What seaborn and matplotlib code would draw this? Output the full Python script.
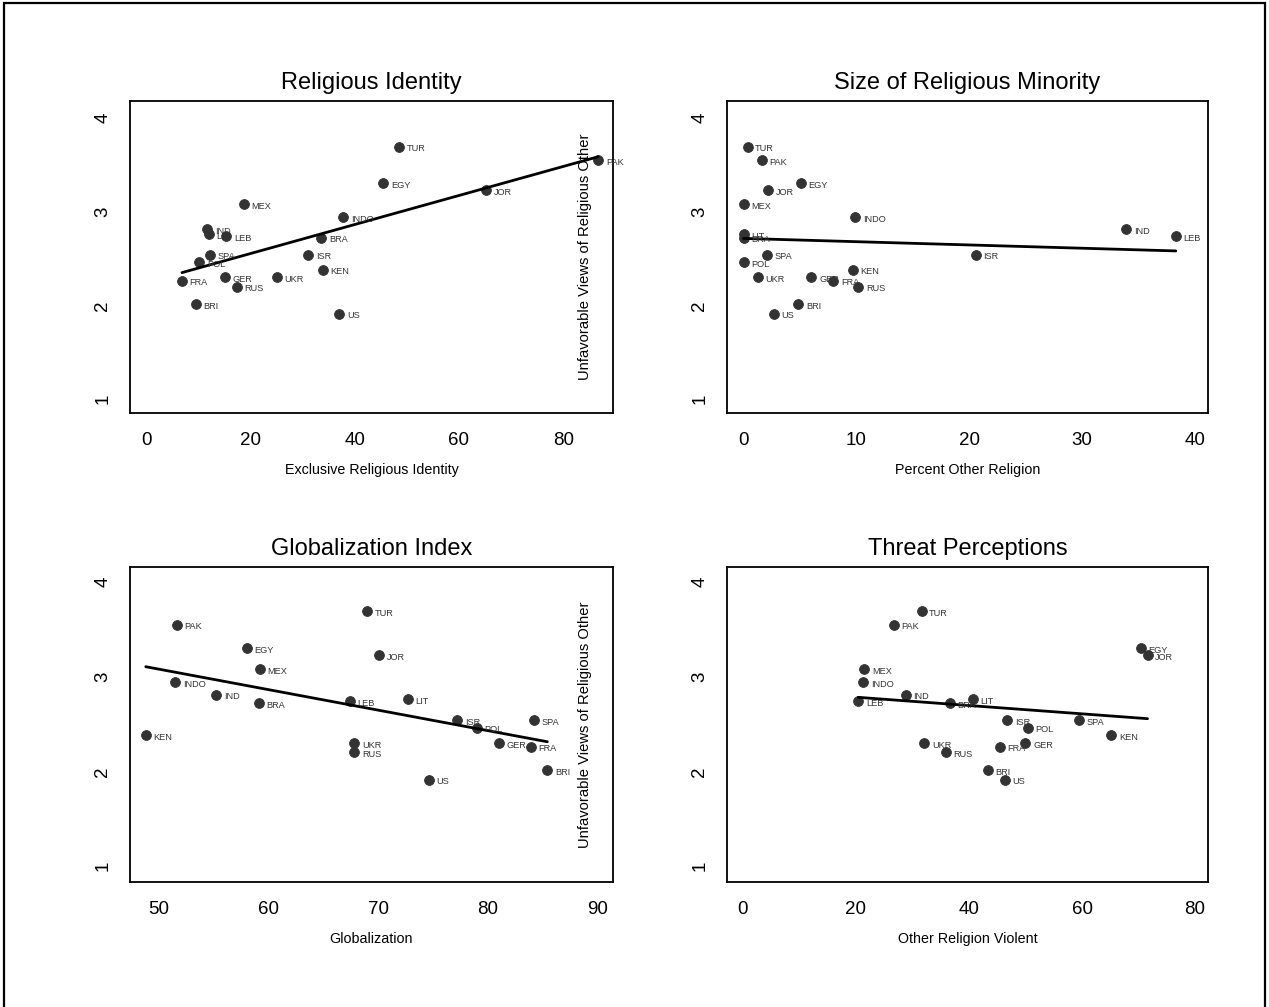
import numpy as np
import pandas as pd
import matplotlib
matplotlib.use("Agg")
import matplotlib.pyplot as plt
from matplotlib.patches import Rectangle
import seaborn as sns

# country codes and outcome (unfavorable views of religious other)
countries = ["TUR", "PAK", "EGY", "JOR", "MEX", "INDO", "IND", "LIT", "LEB", "BRA",
             "SPA", "ISR", "POL", "KEN", "GER", "UKR", "FRA", "RUS", "BRI", "US"]
unfavorable = [3.69, 3.55, 3.30, 3.23, 3.08, 2.94, 2.81, 2.76, 2.74, 2.72,
               2.54, 2.54, 2.46, 2.38, 2.30, 2.30, 2.26, 2.20, 2.01, 1.91]

# predictors, same country order
exclusive_identity = [48.6, 86.7, 45.5, 65.2, 18.7, 37.8, 11.7, 12.0, 15.4, 33.6,
                      12.3, 31.1, 10.2, 33.9, 15.1, 25.1, 6.9, 17.4, 9.5, 37.1]
pct_other_religion = [0.4, 1.65, 5.1, 2.2, 0.05, 9.95, 33.9, 0.05, 38.3, 0.05,
                      2.15, 20.6, 0.05, 9.7, 6.05, 1.3, 8.0, 10.2, 4.9, 2.7]
globalization = [69.0, 51.6, 58.0, 70.1, 59.2, 51.5, 55.2, 72.7, 67.4, 59.1,
                 84.2, 77.2, 79.0, 48.8, 81.0, 67.8, 83.9, 67.8, 85.4, 74.6]
other_violent = [31.6, 26.7, 70.4, 71.6, 21.5, 21.3, 28.8, 40.7, 20.4, 36.6,
                 59.4, 46.8, 50.4, 65.2, 50.0, 32.1, 45.4, 35.9, 43.3, 46.3]

df = pd.DataFrame({
    "country": countries,
    "unfav": unfavorable,
    "excl": exclusive_identity,
    "other": pct_other_religion,
    "glob": globalization,
    "viol": other_violent,
})

sns.set_style("white")
plt.rcParams["font.family"] = ["Liberation Sans", "DejaVu Sans"]
plt.rcParams.update({"text.color": "black", "axes.labelcolor": "black",
                     "xtick.color": "black", "ytick.color": "black"})

W, H = 1269, 1007
fig = plt.figure(figsize=(W / 100, H / 100), dpi=100)

# border around the whole graph (bottom edge falls off the image)
fig.patches.append(Rectangle((4 / W, -0.02), (1265 - 4) / W, 1.02 - 3 / H,
                             transform=fig.transFigure, fill=False,
                             edgecolor="black", linewidth=1.6))


def px_axes(left, right, top, bottom):
    return fig.add_axes([left / W, 1 - bottom / H, (right - left) / W, (bottom - top) / H])


panels = [
    ("excl", "Religious Identity", "Exclusive Religious Identity",
     (130, 613, 101, 413), (-3.07, 89.55), [0, 20, 40, 60, 80], (0.85, 4.18)),
    ("other", "Size of Religious Minority", "Percent Other Religion",
     (727, 1208, 101, 413), (-1.42, 41.15), [0, 10, 20, 30, 40], (0.85, 4.18)),
    ("glob", "Globalization Index", "Globalization",
     (130, 613, 567, 882), (47.36, 91.39), [50, 60, 70, 80, 90], (0.83, 4.16)),
    ("viol", "Threat Perceptions", "Other Religion Violent",
     (727, 1208, 567, 882), (-2.83, 82.3), [0, 20, 40, 60, 80], (0.83, 4.16)),
]

for i, (col, title, xlabel, box, xlim, xticks, ylim) in enumerate(panels):
    ax = px_axes(*box)
    sns.scatterplot(data=df, x=col, y="unfav", ax=ax, s=50, color="#333333",
                    edgecolor="#333333", linewidth=0.6, zorder=3)
    sns.regplot(data=df, x=col, y="unfav", ax=ax, ci=None, scatter=False,
                color="black", line_kws={"linewidth": 2.0, "zorder": 4})
    for _, r in df.iterrows():
        ax.annotate(r["country"], (r[col], r["unfav"]), xytext=(5.5, -1.5),
                    textcoords="offset points", ha="left", va="center",
                    fontsize=6.6, color="#333333", zorder=5)
    ax.set_xlim(*xlim)
    ax.set_ylim(*ylim)
    ax.set_xticks(xticks)
    ax.set_yticks([1, 2, 3, 4])
    ax.tick_params(axis="both", direction="out", length=7.5, width=0.9,
                   labelsize=13.5, color="black", labelcolor="black", pad=6)
    plt.setp(ax.get_yticklabels(), rotation=90, va="center")
    for sp in ax.spines.values():
        sp.set_linewidth(1.3)
        sp.set_color("black")
    ax.set_title(title, fontsize=17, pad=8.5, color="black")
    ax.set_xlabel(xlabel, fontsize=10.3, labelpad=10, color="black")
    if i % 2 == 1:
        ax.set_ylabel("Unfavorable Views of Religious Other", fontsize=10.6,
                      color="black")
        ax.yaxis.set_label_coords(-0.281, 0.5)
    else:
        ax.set_ylabel("")

fig.savefig("out.png", dpi=100)
